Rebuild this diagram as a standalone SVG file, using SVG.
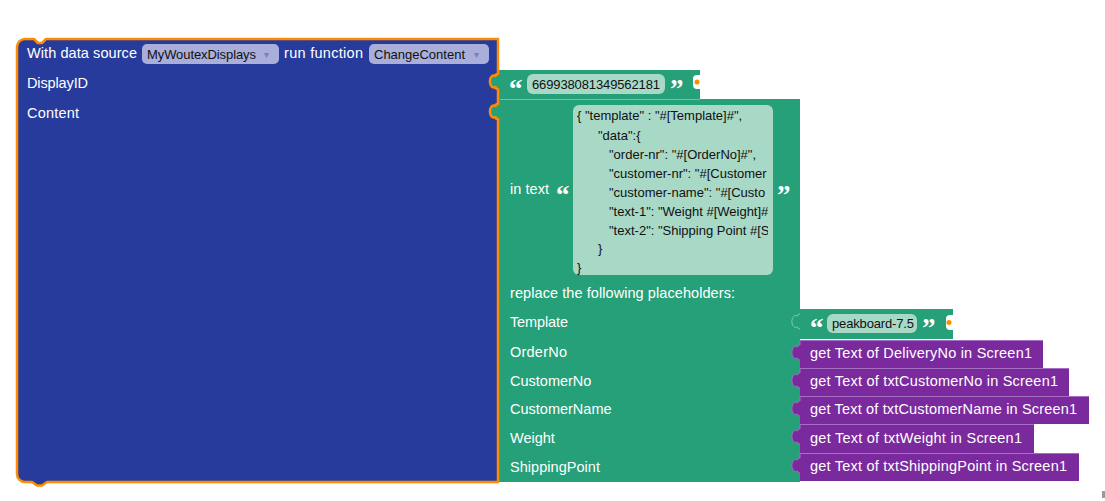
<svg xmlns="http://www.w3.org/2000/svg" width="1105" height="501" viewBox="0 0 1105 501">
<defs>
<style>
.lbl{font-family:"Liberation Sans",Arial,sans-serif;font-size:14.5px;fill:#ffffff}
.dd{font-family:"Liberation Sans",Arial,sans-serif;font-size:13px;fill:#111}
.arr{font-family:"DejaVu Sans",sans-serif;font-size:10px;fill:#7880bb}
.code{font-family:"Liberation Sans",Arial,sans-serif;font-size:13px;fill:#111}
.q{font-family:"Liberation Serif","Times New Roman",serif;font-size:27px;font-weight:bold;fill:#ffffff}
.green{fill:#26A078}
.purple{fill:#7B2A9E}
.pill{fill:#A8D8C6}
.hl{fill:none;stroke:#A56FC4;stroke-width:1}
.notch{fill:#ffffff}
.dot{fill:#FF8C00}
</style>
<clipPath id="codeclip"><rect x="573" y="105" width="195" height="170"/></clipPath>
</defs>
<rect width="1105" height="501" fill="#ffffff"/>

<g id="text-displayid">
<path class="green" d="M498,70 H700 V99 H498 V89 c-1.5,0 -2.5,-0.5 -2.5,-2 a4,6 0 1 1 0,-11 c0,-1.5 1,-2 2.5,-2 Z"/>
<path class="notch" d="M700,75 H697 a4,4 0 0 0 -4,4 V85 a4,4 0 0 0 4,4 H700 Z"/>
<circle class="dot" cx="697" cy="82" r="2.5"/>
<text class="q" x="509" y="98">“</text>
<rect class="pill" x="527" y="74" width="138" height="20" rx="6"/>
<text class="dd" x="532" y="89" textLength="128">669938081349562181</text>
<text class="q" x="670" y="98">”</text>
</g>

<g id="replace-block">
<path class="green" d="M498,99 H800 V482 H498 V119 c-1.5,0 -2.5,-0.5 -2.5,-2 a4,6 0 1 1 0,-11 c0,-1.5 1,-2 2.5,-2 Z"/>
<line x1="500" y1="99.5" x2="700" y2="99.5" stroke="#6CC3A2" stroke-width="1"/>
<text class="lbl" x="510" y="194" textLength="39">in text</text>
<text class="q" x="556" y="204">“</text>
<rect class="pill" x="573" y="105" width="200" height="170" rx="6"/>
<g clip-path="url(#codeclip)">
<text class="code" x="577" y="120">{ "template" : "#[Template]#",</text>
<text class="code" x="598" y="140">"data":{</text>
<text class="code" x="609" y="159">"order-nr": "#[OrderNo]#",</text>
<text class="code" x="609" y="178">"customer-nr": "#[Customer</text>
<text class="code" x="609" y="197">"customer-name": "#[Custo</text>
<text class="code" x="609" y="216">"text-1": "Weight #[Weight]#</text>
<text class="code" x="609" y="235">"text-2": "Shipping Point #[S</text>
<text class="code" x="598" y="253">}</text>
<text class="code" x="577" y="272">}</text>
</g>
<text class="q" x="777" y="204">”</text>
<text class="lbl" x="510" y="298" textLength="225">replace the following placeholders:</text>
<text class="lbl" x="510" y="327" textLength="58">Template</text>
<text class="lbl" x="510" y="357" textLength="57">OrderNo</text>
<text class="lbl" x="510" y="386">CustomerNo</text>
<text class="lbl" x="510" y="414">CustomerName</text>
<text class="lbl" x="510" y="443">Weight</text>
<text class="lbl" x="510" y="472" textLength="90">ShippingPoint</text>
</g>

<g id="text-template">
<path class="green" d="M800,309 H953 V339 H800 V329 c-1.5,0 -2.5,-0.5 -2.5,-2 a4,6 0 1 1 0,-11 c0,-1.5 1,-2 2.5,-2 Z"/>
<path d="M800,329 c-1.5,0 -2.5,-0.5 -2.5,-2 a4,6 0 1 1 0,-11 c0,-1.5 1,-2 2.5,-2" fill="none" stroke="#7FCCB0" stroke-width="1"/>
<path class="notch" d="M953,315 H950 a4,4 0 0 0 -4,4 V326 a4,4 0 0 0 4,4 H953 Z"/>
<circle class="dot" cx="949" cy="322.5" r="2.5"/>
<text class="q" x="810" y="337">“</text>
<rect class="pill" x="827" y="314" width="90" height="19" rx="6"/>
<text class="dd" x="832" y="328" textLength="82">peakboard-7.5</text>
<text class="q" x="922" y="337">”</text>
</g>

<g id="get-orderno">
<path class="purple" d="M800,340 H1043 V368 H800 V360 c-1.5,0 -2.5,-0.5 -2.5,-2 a4,6 0 1 1 0,-11 c0,-1.5 1,-2 2.5,-2 Z"/>
<path class="hl" d="M800,360 c-1.5,0 -2.5,-0.5 -2.5,-2 a4,6 0 1 1 0,-11 c0,-1.5 1,-2 2.5,-2 V340.5 H1043"/>
<text class="lbl" x="810" y="358" textLength="222">get Text of DeliveryNo in Screen1</text>
</g>
<g id="get-customerno">
<path class="purple" d="M800,368 H1069 V396 H800 V388 c-1.5,0 -2.5,-0.5 -2.5,-2 a4,6 0 1 1 0,-11 c0,-1.5 1,-2 2.5,-2 Z"/>
<path class="hl" d="M800,388 c-1.5,0 -2.5,-0.5 -2.5,-2 a4,6 0 1 1 0,-11 c0,-1.5 1,-2 2.5,-2 V368.5 H1069"/>
<text class="lbl" x="810" y="386" textLength="248">get Text of txtCustomerNo in Screen1</text>
</g>
<g id="get-customername">
<path class="purple" d="M800,396 H1089 V424 H800 V416 c-1.5,0 -2.5,-0.5 -2.5,-2 a4,6 0 1 1 0,-11 c0,-1.5 1,-2 2.5,-2 Z"/>
<path class="hl" d="M800,416 c-1.5,0 -2.5,-0.5 -2.5,-2 a4,6 0 1 1 0,-11 c0,-1.5 1,-2 2.5,-2 V396.5 H1089"/>
<text class="lbl" x="810" y="414" textLength="267">get Text of txtCustomerName in Screen1</text>
</g>
<g id="get-weight">
<path class="purple" d="M800,424 H1034 V453 H800 V444 c-1.5,0 -2.5,-0.5 -2.5,-2 a4,6 0 1 1 0,-11 c0,-1.5 1,-2 2.5,-2 Z"/>
<path class="hl" d="M800,444 c-1.5,0 -2.5,-0.5 -2.5,-2 a4,6 0 1 1 0,-11 c0,-1.5 1,-2 2.5,-2 V424.5 H1034"/>
<text class="lbl" x="810" y="443" textLength="212">get Text of txtWeight in Screen1</text>
</g>
<g id="get-shippingpoint">
<path class="purple" d="M800,453 H1079 V481 H800 V473 c-1.5,0 -2.5,-0.5 -2.5,-2 a4,6 0 1 1 0,-11 c0,-1.5 1,-2 2.5,-2 Z"/>
<path class="hl" d="M800,473 c-1.5,0 -2.5,-0.5 -2.5,-2 a4,6 0 1 1 0,-11 c0,-1.5 1,-2 2.5,-2 V453.5 H1079"/>
<text class="lbl" x="810" y="471" textLength="257">get Text of txtShippingPoint in Screen1</text>
</g>

<g id="run-function">
<path d="M17,47 A8,8 0 0 1 25,39 H34 l4,4 h4 l4,-4 H498 V74 c-1.5,0 -2.5,0.5 -2.5,2 a4,6 0 1 0 0,11 c0,1.5 1,2 2.5,2 V104 c-1.5,0 -2.5,0.5 -2.5,2 a4,6 0 1 0 0,11 c0,1.5 1,2 2.5,2 V482 H47 l-5,3.5 h-5 l-5,-3.5 H25 A8,8 0 0 1 17,474 Z" fill="#273B9D" stroke="#FF8C00" stroke-width="2.5" stroke-linejoin="round"/>
<text class="lbl" x="27" y="58" textLength="110">With data source</text>
<rect x="142" y="44" width="137" height="20" rx="5" fill="#A9AEDB"/>
<text class="dd" x="147" y="59" textLength="109">MyWoutexDisplays</text>
<text class="arr" x="264" y="58">▾</text>
<text class="lbl" x="284" y="58" textLength="79">run function</text>
<rect x="369" y="44" width="120" height="20" rx="5" fill="#A9AEDB"/>
<text class="dd" x="374" y="59" textLength="91">ChangeContent</text>
<text class="arr" x="474" y="58">▾</text>
<text class="lbl" x="27" y="88" textLength="61">DisplayID</text>
<text class="lbl" x="27" y="118" textLength="52">Content</text>
</g>

<rect x="1102" y="491" width="3" height="7" fill="#9a9a9a"/>
</svg>
